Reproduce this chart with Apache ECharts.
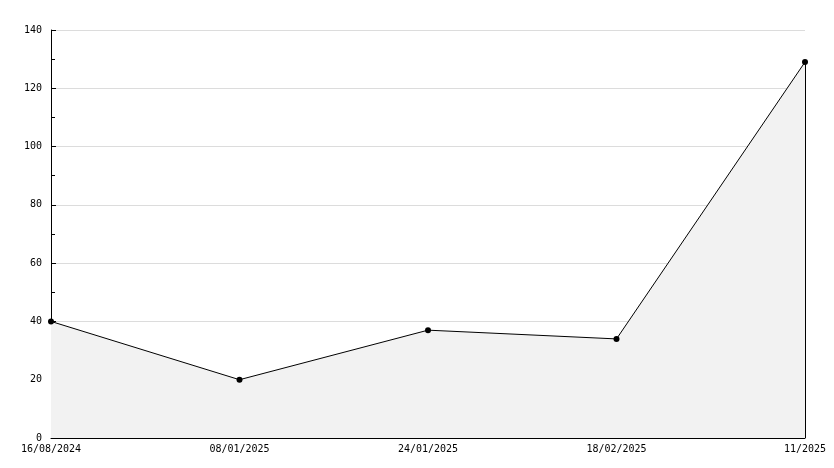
<!DOCTYPE html>
<html>
<head>
<meta charset="utf-8">
<script src="https://cdn.jsdelivr.net/npm/echarts@6/dist/echarts.min.js"></script>
<style>
  html, body { margin: 0; padding: 0; background: #fff; }
  #chart { width: 834px; height: 468px; }
</style>
</head>
<body>
<div id="chart"></div>
<script>
  // data
  const categories = ['16/08/2024', '08/01/2025', '24/01/2025', '18/02/2025', '11/2025']
  const values = [40, 20, 37, 34, 129]
  const yTicks = [0, 20, 40, 60, 80, 100, 120, 140]

  const font = 'DejaVu Sans Mono'
  const chart = echarts.init(document.getElementById('chart'))
  const last = categories.length - 1

  chart.setOption({
    animation: false,
    grid: { left: 51, right: 29, top: 30, bottom: 30 },
    xAxis: {
      type: 'category',
      data: categories,
      boundaryGap: false,
      axisLine: { lineStyle: { color: '#000', width: 1 } },
      axisTick: { inside: true, length: 6, lineStyle: { color: '#000' } },
      axisLabel: { color: '#000', fontFamily: font, fontSize: 10, margin: 6, interval: 0 },
      splitLine: { show: false }
    },
    yAxis: {
      type: 'value',
      min: yTicks[0],
      max: yTicks[yTicks.length - 1],
      interval: 20,
      axisLine: { show: true, lineStyle: { color: '#000', width: 1 } },
      axisTick: { show: true, inside: true, length: 5, lineStyle: { color: '#000' } },
      minorTick: { show: true, splitNumber: 2, length: 4, lineStyle: { color: '#000' } },
      axisLabel: { color: '#000', fontFamily: font, fontSize: 10, margin: 9, padding: [2, 0, 0, 0] },
      splitLine: { show: true, lineStyle: { color: '#dcdcdc', width: 1 } }
    },
    series: [{
      type: 'line',
      data: values,
      symbol: 'circle',
      symbolSize: 6,
      itemStyle: { color: '#000' },
      lineStyle: { color: '#000', width: 1 },
      areaStyle: { color: '#f2f2f2', opacity: 1 },
      markLine: {
        silent: true,
        symbol: 'none',
        label: { show: false },
        lineStyle: { color: '#000', width: 1, type: 'solid' },
        data: [[
          { coord: [categories[last], 0] },
          { coord: [categories[last], values[last]] }
        ]]
      }
    }]
  })
</script>
</body>
</html>
